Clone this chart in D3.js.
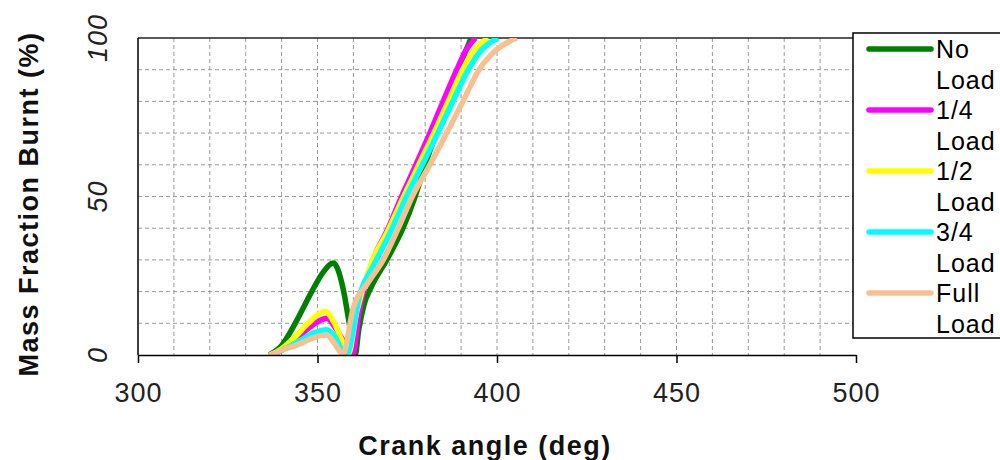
<!DOCTYPE html>
<html>
<head>
<meta charset="utf-8">
<script src="https://cdn.jsdelivr.net/npm/d3@7"></script>
<style>
  body { margin: 0; background: #fff; }
  svg { display: block; font-family: "Liberation Sans", Arial, sans-serif; }
</style>
</head>
<body>
<div id="chart"></div>
<script>
// crank angle (deg) / mass fraction burnt (%)
var noLoadAngle = [336.5, 340, 343.8, 348.4, 351.5, 354.4, 357.3, 358.7, 360.5, 361.5, 363, 365, 369.3, 373.8, 377.2, 380, 383, 386, 389.2, 392.8];
var noLoadMfb   = [0, 3, 10, 20, 26, 29, 20, 11, 0, 8, 16, 21.5, 30, 40, 50, 60, 70, 80, 90, 100];

var quarterAngle = [337, 340, 344, 349.3, 352.6, 355, 358, 359.8, 361.5, 365.5, 369.7, 373.4, 377.4, 381.3, 385, 388.8, 391.3, 394];
var quarterMfb   = [0, 1.5, 5, 10, 11.6, 8.5, 3, 0, 13, 30, 40, 50, 60, 70, 80, 90, 96, 100];

var halfAngle = [337, 340, 344, 347.4, 352.1, 354.5, 357, 358.5, 361, 365, 369.5, 374, 378.2, 382.4, 386.4, 390.4, 393.5, 397.5];
var halfMfb   = [0, 2, 6, 10, 13.7, 10.5, 4, 0, 14, 29, 39, 50, 60, 70, 80, 90, 96, 100];

var threeQAngle = [337, 340, 345, 349, 352.6, 355, 356.8, 358, 362, 365.5, 370, 374.8, 379.2, 383.5, 387.7, 392, 395.5, 400.3];
var threeQMfb   = [0, 1.5, 4.5, 7, 8, 5.5, 1.5, 0, 20, 28, 38, 50, 60, 70, 80, 90, 96, 100];

var fullAngle = [336.5, 340, 345, 349, 352.6, 354.5, 356.3, 357, 360, 364, 368.3, 372.5, 376.4, 381.3, 386, 390.5, 395, 399.5, 405.5];
var fullMfb   = [0, 1.5, 3.5, 5.5, 6.3, 4, 1, 0, 15, 22.7, 30, 40, 50, 60, 70, 80, 90, 96, 100];

var seriesNames = ["No Load", "1/4 Load", "1/2 Load", "3/4 Load", "Full Load"];
var seriesColors = ["#008000", "#ff00ff", "#ffff00", "#00ffff", "#f9c08f"];
var xTicks = [300, 350, 400, 450, 500];
var yTicks = [0, 50, 100];

var series = [
  [noLoadAngle, noLoadMfb],
  [quarterAngle, quarterMfb],
  [halfAngle, halfMfb],
  [threeQAngle, threeQMfb],
  [fullAngle, fullMfb]
].map(function(s, i) {
  return {
    name: seriesNames[i],
    color: seriesColors[i],
    pts: s[0].map(function(a, j) { return {x: a, y: s[1][j]}; })
  };
});

var width = 1000, height = 460;
var plot = {left: 138, right: 856, top: 38, bottom: 355};

var x = d3.scaleLinear().domain([300, 500]).range([plot.left, plot.right]);
var y = d3.scaleLinear().domain([0, 100]).range([plot.bottom, plot.top]);

var svg = d3.select("#chart").append("svg")
    .attr("width", width)
    .attr("height", height);

svg.append("defs").append("clipPath")
    .attr("id", "plotclip")
  .append("rect")
    .attr("x", plot.left)
    .attr("y", plot.top)
    .attr("width", plot.right - plot.left)
    .attr("height", plot.bottom - plot.top);

// grid
var grid = svg.append("g").attr("class", "grid");
grid.selectAll(".vgrid")
    .data(d3.range(310, 500, 10))
  .enter().append("line")
    .attr("x1", function(d) { return x(d); })
    .attr("x2", function(d) { return x(d); })
    .attr("y1", plot.top)
    .attr("y2", plot.bottom)
    .attr("stroke", "#9a9a9a")
    .attr("stroke-dasharray", "4,3");
grid.selectAll(".hgrid")
    .data(d3.range(10, 100, 10))
  .enter().append("line")
    .attr("x1", plot.left)
    .attr("x2", plot.right)
    .attr("y1", function(d) { return y(d); })
    .attr("y2", function(d) { return y(d); })
    .attr("stroke", "#9a9a9a")
    .attr("stroke-dasharray", "4,3");

// top border
svg.append("line")
    .attr("x1", plot.left).attr("x2", plot.right)
    .attr("y1", y(100)).attr("y2", y(100))
    .attr("stroke", "#222")
    .attr("stroke-width", 1.5);

// curves
var line = d3.line()
    .x(function(d) { return x(d.x); })
    .y(function(d) { return y(d.y); })
    .curve(d3.curveMonotoneX);

svg.append("g")
    .attr("clip-path", "url(#plotclip)")
  .selectAll(".mfb")
    .data(series)
  .enter().append("path")
    .attr("class", "mfb")
    .attr("d", function(d) { return line(d.pts); })
    .attr("fill", "none")
    .attr("stroke", function(d) { return d.color; })
    .attr("stroke-width", 5.5)
    .attr("stroke-linejoin", "round");

// x axis
var xAxis = svg.append("g")
    .attr("transform", "translate(0," + plot.bottom + ")")
    .call(d3.axisBottom(x).tickValues(xTicks).tickSize(8).tickSizeOuter(0).tickFormat(d3.format("d")));
xAxis.select(".domain").attr("stroke", "#000").attr("stroke-width", 1.5);
xAxis.selectAll(".tick line").attr("stroke", "#000").attr("stroke-width", 1.5);
xAxis.selectAll(".tick text")
    .attr("y", 47)
    .attr("dy", null)
    .attr("fill", "#222")
    .attr("font-size", 27)
    .attr("letter-spacing", 1)
    .attr("font-family", "Liberation Sans, Arial, sans-serif");

// y axis line
svg.append("line")
    .attr("x1", plot.left).attr("x2", plot.left)
    .attr("y1", plot.top).attr("y2", plot.bottom)
    .attr("stroke", "#000")
    .attr("stroke-width", 1.5);

svg.selectAll(".ylab")
    .data(yTicks)
  .enter().append("text")
    .attr("class", "ylab")
    .attr("transform", function(d) { return "translate(107," + y(d) + ") rotate(-90)"; })
    .attr("text-anchor", "middle")
    .attr("font-size", 27)
    .attr("font-style", "italic")
    .attr("letter-spacing", 1)
    .attr("fill", "#222")
    .text(function(d) { return d; });

// axis titles
svg.append("text")
    .attr("x", 485)
    .attr("y", 455)
    .attr("text-anchor", "middle")
    .attr("font-size", 27)
    .attr("font-weight", "bold")
    .attr("letter-spacing", 1.5)
    .attr("fill", "#111")
    .text("Crank angle (deg)");

svg.append("text")
    .attr("transform", "translate(38,204) rotate(-90)")
    .attr("text-anchor", "middle")
    .attr("font-size", 27)
    .attr("font-weight", "bold")
    .attr("letter-spacing", 1.5)
    .attr("fill", "#111")
    .text("Mass Fraction Burnt (%)");

// legend
var legend = svg.append("g");
legend.append("rect")
    .attr("x", 853)
    .attr("y", 33)
    .attr("width", 160)
    .attr("height", 305)
    .attr("fill", "#fff")
    .attr("stroke", "#000")
    .attr("stroke-width", 1.5);

var item = legend.selectAll(".item")
    .data(series)
  .enter().append("g")
    .attr("class", "item")
    .attr("transform", function(d, i) { return "translate(0," + (49 + i * 61) + ")"; });

item.append("line")
    .attr("x1", 869)
    .attr("x2", 931)
    .attr("stroke", function(d) { return d.color; })
    .attr("stroke-width", 5.5)
    .attr("stroke-linecap", "round");

var lt = item.append("text")
    .attr("x", 936)
    .attr("font-size", 25)
    .attr("letter-spacing", 1)
    .attr("fill", "#000");
lt.append("tspan")
    .attr("x", 936)
    .attr("y", 9)
    .text(function(d) { return d.name.split(" ")[0]; });
lt.append("tspan")
    .attr("x", 936)
    .attr("y", 40)
    .text(function(d) { return d.name.split(" ")[1]; });
</script>
</body>
</html>
